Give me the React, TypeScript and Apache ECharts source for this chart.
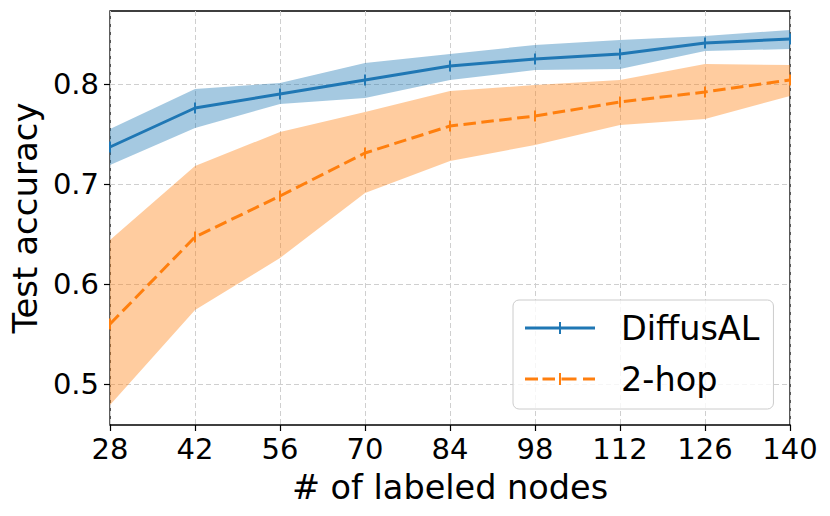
import React, { useEffect, useRef } from "react";
import * as echarts from "echarts";

const nodes = [28, 42, 56, 70, 84, 98, 112, 126, 140];
const diffusalMean = [0.737, 0.776, 0.790, 0.804, 0.818, 0.825, 0.830, 0.841, 0.845];
const diffusalLower = [0.719, 0.756, 0.780, 0.786, 0.804, 0.814, 0.815, 0.833, 0.835];
const diffusalUpper = [0.755, 0.795, 0.801, 0.821, 0.830, 0.839, 0.844, 0.848, 0.854];
const hopMean = [0.560, 0.647, 0.688, 0.731, 0.758, 0.768, 0.782, 0.792, 0.804];
const hopLower = [0.479, 0.574, 0.626, 0.691, 0.723, 0.739, 0.759, 0.765, 0.788];
const hopUpper = [0.644, 0.718, 0.752, 0.772, 0.793, 0.799, 0.804, 0.820, 0.819];
const yTicks = [0.5, 0.6, 0.7, 0.8];
const seriesNames = ["DiffusAL", "2-hop"];

const BLUE = "#1f77b4";
const ORANGE = "#ff7f0e";
const FONT = "DejaVu Sans";

const iconSolid = "path://M0,4.5h70v3h-70z M34,0h2v12h-2z";
const iconDashed =
  "path://M0,4.5h13v3h-13z M17.5,4.5h12.5v3h-12.5z M34,0h2v12h-2z M36.5,4.5h15v3h-15z M58,4.5h12v3h-12z";

function pairs(xs: number[], ys: number[]) {
  return xs.map((x, i) => [x, ys[i]]);
}

function bandSeries(name: string, lower: number[], upper: number[], color: string) {
  return {
    name,
    type: "custom",
    silent: true,
    z: 1,
    clip: true,
    data: nodes.map((x, i) => [x, lower[i], upper[i]]),
    encode: { x: 0, y: [1, 2] },
    renderItem: (params: any, api: any) => {
      if (params.dataIndex !== 0) return null;
      const top = nodes.map((x, i) => api.coord([x, upper[i]]));
      const bottom = nodes.map((x, i) => api.coord([x, lower[i]])).reverse();
      return {
        type: "polygon",
        shape: { points: top.concat(bottom) },
        style: { fill: color, opacity: 0.4 },
      };
    },
  };
}

export default function App() {
  const ref = useRef<HTMLDivElement>(null);
  useEffect(() => {
    if (!ref.current) return;
    const chart = echarts.init(ref.current, null, { renderer: "svg" });
    chart.setOption({
      animation: false,
      backgroundColor: "#ffffff",
      textStyle: { fontFamily: FONT },
      grid: {
        left: 109,
        right: 40,
        top: 11,
        bottom: 91,
        show: true,
        borderColor: "#000000",
        borderWidth: 1.3,
        backgroundColor: "transparent",
      },
      legend: {
        data: [
          { name: seriesNames[0], icon: iconSolid },
          { name: seriesNames[1], icon: iconDashed },
        ],
        orient: "vertical",
        left: 513,
        top: 300,
        itemWidth: 70,
        itemHeight: 12,
        itemGap: 17,
        padding: [11, 14, 13, 12],
        backgroundColor: "rgba(255,255,255,0.8)",
        borderColor: "#cccccc",
        borderWidth: 1,
        borderRadius: 6,
        itemStyle: { borderWidth: 0 },
        textStyle: {
          fontSize: 33.5,
          lineHeight: 33,
          color: "#000000",
          fontFamily: FONT,
          padding: [0, 0, 0, 21],
        },
      },
      xAxis: {
        type: "value",
        min: 28,
        max: 140,
        interval: 14,
        name: "# of labeled nodes",
        nameLocation: "middle",
        nameGap: 45,
        nameTextStyle: { fontSize: 33.5, color: "#000000", fontFamily: FONT },
        axisLine: { show: false },
        axisTick: { show: true, length: 6, lineStyle: { color: "#000000", width: 1.2 } },
        axisLabel: { fontSize: 29, color: "#000000", margin: 9, fontFamily: FONT },
        splitLine: { show: true, lineStyle: { color: "#cfcfcf", width: 1, type: [5, 3] } },
      },
      yAxis: {
        type: "value",
        min: 0.459,
        max: 0.873,
        name: "Test accuracy",
        nameLocation: "middle",
        nameGap: 64,
        nameTextStyle: { fontSize: 34, color: "#000000", fontFamily: FONT },
        axisLine: { show: false },
        axisTick: {
          show: true,
          length: 6,
          customValues: yTicks,
          lineStyle: { color: "#000000", width: 1.2 },
        },
        axisLabel: {
          fontSize: 29,
          color: "#000000",
          margin: 11,
          fontFamily: FONT,
          customValues: yTicks,
          formatter: (v: number) => v.toFixed(1),
        },
        splitLine: { show: true, lineStyle: { color: "#cfcfcf", width: 1, type: [5, 3] } },
      },
      series: [
        bandSeries("DiffusAL band", diffusalLower, diffusalUpper, BLUE),
        bandSeries("2-hop band", hopLower, hopUpper, ORANGE),
        {
          name: seriesNames[0],
          type: "line",
          data: pairs(nodes, diffusalMean),
          symbol: "rect",
          symbolSize: [2, 11],
          showSymbol: true,
          itemStyle: { color: BLUE },
          lineStyle: { color: BLUE, width: 3 },
          z: 3,
        },
        {
          name: seriesNames[1],
          type: "line",
          data: pairs(nodes, hopMean),
          symbol: "rect",
          symbolSize: [2, 11],
          showSymbol: true,
          itemStyle: { color: ORANGE },
          lineStyle: { color: ORANGE, width: 3, type: [12.5, 5.5] },
          z: 3,
        },
      ],
    });
    return () => chart.dispose();
  }, []);
  return (
    <div
      ref={ref}
      style={{ position: "fixed", left: 0, top: 0, width: 830, height: 516, background: "#fff" }}
    />
  );
}
